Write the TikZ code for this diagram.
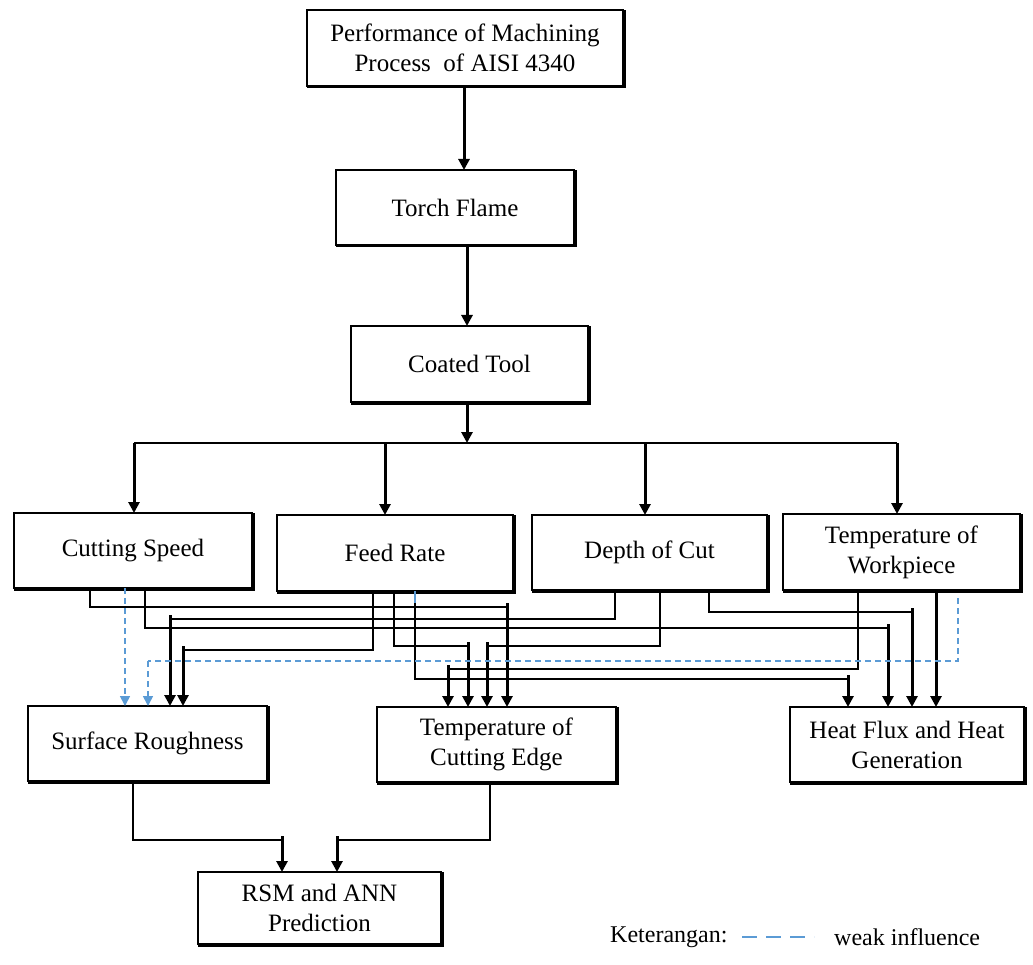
\documentclass[tikz,border=0pt]{standalone}
\usepackage{fontspec}
\setmainfont{Liberation Serif}
\usetikzlibrary{arrows.meta}
\definecolor{wblue}{RGB}{91,155,213}
\begin{document}
\begin{tikzpicture}[x=1pt,y=-1pt,
  box/.style={draw, line width=1.4pt, inner sep=0pt, outer sep=0pt, align=center,
    font=\fontsize{25}{30}\selectfont, fill=white},
  thinln/.style={line width=1.3pt},
  arr/.style={line width=3pt, -{Triangle[width=11pt,length=11pt]}},
  weak/.style={color=wblue, line width=1.6pt, dash pattern=on 6pt off 4pt},
  weakarr/.style={weak, -{Triangle[width=10pt,length=10pt]}},
  txt/.style={font=\fontsize{24}{28}\selectfont, inner sep=0pt, anchor=west}
]
\useasboundingbox (0,0) rectangle (1033,965);

% boxes
\node[box, minimum width=316pt, minimum height=76pt] (top) at (465,48) {Performance of Machining\\Process\ \ of AISI 4340};
\node[box, minimum width=238pt, minimum height=75pt] (torch) at (455,207.5) {Torch Flame};
\node[box, minimum width=237pt, minimum height=76pt] (coat) at (469.5,364) {Coated Tool};
\node[box, minimum width=238pt, minimum height=75pt] (cs) at (133,550.5) {Cutting Speed};
\node[box, minimum width=236pt, minimum height=76pt] (fr) at (395,553) {Feed Rate};
\node[box, minimum width=235pt, minimum height=75pt] (doc) at (649.5,552.5) {Depth of Cut};
\node[box, minimum width=237pt, minimum height=76pt] (tw) at (901.5,552) {Temperature of\\Workpiece};
\node[box, minimum width=239pt, minimum height=75pt] (sr) at (147.5,743.5) {Surface Roughness};
\node[box, minimum width=239pt, minimum height=75pt] (tce) at (496.5,744.5) {Temperature of\\Cutting Edge};
\node[box, minimum width=234pt, minimum height=75pt] (hf) at (907,744.5) {Heat Flux and Heat\\Generation};
\node[box, minimum width=243pt, minimum height=72pt] (rsm) at (319.5,908) {RSM and ANN\\Prediction};

% shadow edges (bottom and right)
\foreach \n in {top,torch,coat,cs,fr,doc,tw,sr,tce,hf,rsm}{
  \draw[line width=3pt, line join=miter]
    ([shift={(0,1)}]\n.south west) -- ([shift={(1,1)}]\n.south east) -- ([shift={(1,0)}]\n.north east);
}

% main chain
\draw[arr] (top.south -| 464,0) -- (torch.north -| 464,0);
\draw[arr] (torch.south -| 467,0) -- (coat.north -| 467,0);
\coordinate (bus) at (467,443);
\draw[arr] (coat.south -| 467,0) -- (bus);
\draw[thinln] (134,443) -- (897,443);
\draw[arr] (134,443) -- (cs.north -| 134,0);
\draw[arr] (385,443) -- (fr.north -| 385,0);
\draw[arr] (645,443) -- (doc.north -| 645,0);
\draw[arr] (897,443) -- (tw.north -| 897,0);

% Cutting Speed
\draw[thinln] (cs.south -| 90,0) |- (507,607);
\draw[arr] (507,603) -- (tce.north -| 507,0);
\draw[thinln] (cs.south -| 145,0) |- (888,628);
\draw[arr] (888,624) -- (hf.north -| 888,0);
\draw[weakarr] (cs.south -| 125,0) -- (sr.north -| 125,0);

% Feed Rate
\draw[thinln] (fr.south -| 373,0) |- (183,650);
\draw[arr] (183,646) -- (sr.north -| 183,0);
\draw[thinln] (fr.south -| 394,0) |- (468,646);
\draw[arr] (468,642) -- (tce.north -| 468,0);
\draw[thinln] (fr.south -| 415,0) |- (848,679);
\draw[arr] (848,675) -- (hf.north -| 848,0);
\draw[color=wblue, line width=1.5pt] (fr.south -| 415,0) -- (415,603);

% Depth of Cut
\draw[thinln] (doc.south -| 615,0) |- (170,619);
\draw[arr] (170,615) -- (sr.north -| 170,0);
\draw[thinln] (doc.south -| 660,0) |- (487,646);
\draw[arr] (487,642) -- (tce.north -| 487,0);
\draw[thinln] (doc.south -| 709,0) |- (912,612);
\draw[arr] (912,608) -- (hf.north -| 912,0);

% Temperature of Workpiece
\draw[thinln] (tw.south -| 858,0) |- (448,669);
\draw[arr] (448,665) -- (tce.north -| 448,0);
\draw[arr] (tw.south -| 936,0) -- (hf.north -| 936,0);
\draw[weak] (958,598) |- (148,661);
\draw[weakarr] (148,661) -- (sr.north -| 148,0);

% to prediction
\draw[thinln] (sr.south -| 133,0) |- (282,840);
\draw[arr] (282,836) -- (rsm.north -| 282,0);
\draw[thinln] (tce.south -| 490,0) |- (337,840);
\draw[arr] (337,836) -- (rsm.north -| 337,0);

% legend
\node[txt] (ket) at (610,937) {Keterangan:};
\coordinate (l1) at (742,937);
\coordinate (l2) at (814,937);
\draw[color=wblue, line width=1.6pt, dash pattern=on 15pt off 9pt] (l1) -- (l2);
\node[txt] (wi) at (834,937) {weak influence};
\end{tikzpicture}
\end{document}
